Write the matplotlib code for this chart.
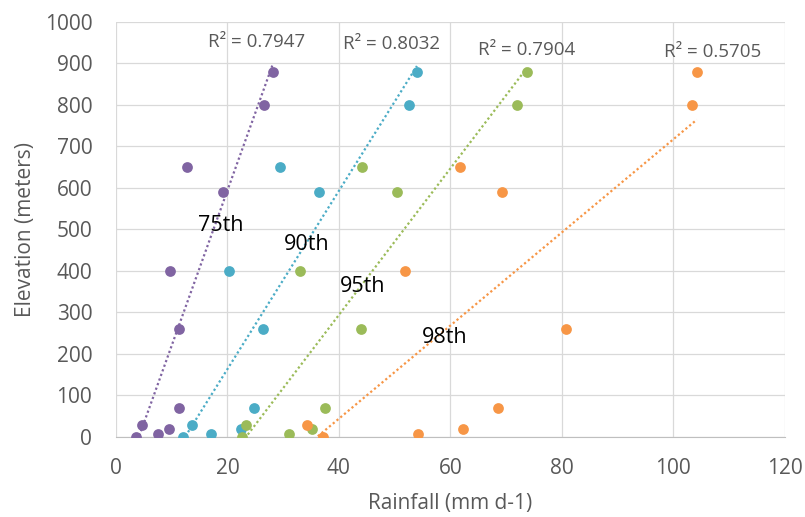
import numpy as np
import matplotlib.pyplot as plt

plt.rcParams['font.family'] = ['Open Sans', 'DejaVu Sans']

# elevation of the stations (m), same for every percentile
elev = [880, 800, 650, 590, 400, 260, 70, 28, 20, 8, 0]

rain_75 = [28.2, 26.5, 12.7, 19.2, 9.7, 11.4, 11.4, 4.6, 9.6, 7.6, 3.6]
rain_90 = [54.0, 52.5, 29.5, 36.5, 20.2, 26.3, 24.8, 13.6, 22.5, 17.1, 12.0]
rain_95 = [73.7, 72.0, 44.2, 50.4, 33.0, 43.9, 37.5, 23.3, 35.2, 31.1, 22.6]
rain_98 = [104.2, 103.4, 61.7, 69.3, 51.9, 80.7, 68.5, 34.2, 62.2, 54.1, 37.2]

names = ['75th', '90th', '95th', '98th']
r2_text = ['R² = 0.7947', 'R² = 0.8032', 'R² = 0.7904', 'R² = 0.5705']
colors = ['#8064A2', '#4BACC6', '#9BBB59', '#F79646']

series = [rain_75, rain_90, rain_95, rain_98]
name_pos = [(18.8, 510), (34.2, 464), (44.3, 362), (59.0, 240)]
r2_pos = [(25.2, 950), (49.5, 946), (73.7, 933), (107.0, 927)]

fig = plt.figure(figsize=(8.05, 5.17), dpi=100)
ax = fig.add_axes([0.144, 0.155, 0.831, 0.803])

for rain, c, nm, r2, npos, rpos in zip(series, colors, names, r2_text, name_pos, r2_pos):
    x = np.array(rain)
    y = np.array(elev)
    ax.scatter(x, y, s=60, color=c, zorder=3, linewidths=0)
    # linear trendline over the data range
    k, b = np.polyfit(x, y, 1)
    xs = np.array([x.min(), x.max()])
    ax.plot(xs, k * xs + b, color=c, linestyle=(0, (1, 1.2)), lw=1.6, zorder=2)
    ax.text(npos[0], npos[1], nm, fontsize=15.5, color='black', ha='center', va='center')
    ax.text(rpos[0], rpos[1], r2, fontsize=13.5, color='#595959', ha='center', va='center')

ax.set_xlim(0, 120)
ax.set_ylim(0, 1000)
ax.set_xticks(range(0, 121, 20))
ax.set_yticks(range(0, 1001, 100))
ax.grid(True, color='#D9D9D9', lw=0.9)
ax.set_axisbelow(True)
for s in ['top', 'right', 'left']:
    ax.spines[s].set_visible(False)
ax.spines['bottom'].set_color('#BFBFBF')
ax.tick_params(length=0, labelsize=15, colors='#595959')
ax.tick_params(axis='x', pad=15)
ax.tick_params(axis='y', pad=17)

ax.set_xlabel('Rainfall (mm d-1)', fontsize=15, color='#595959', labelpad=10)
ax.set_ylabel('Elevation (meters)', fontsize=15, color='#595959', labelpad=6)

fig.savefig('out.png', dpi=100)
